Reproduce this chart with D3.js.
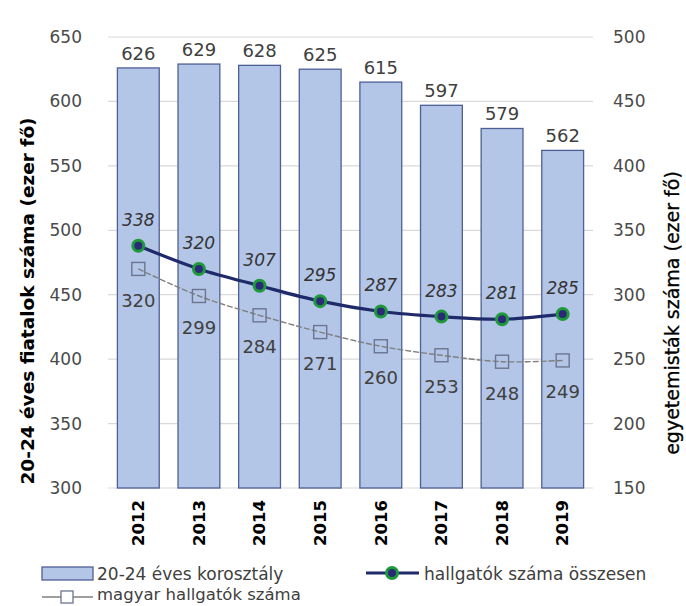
<!DOCTYPE html>
<html>
<head>
<meta charset="utf-8">
<script src="https://cdn.jsdelivr.net/npm/d3@7/dist/d3.min.js"></script>
<style>
  html, body { margin: 0; padding: 0; background: #fff; }
  svg { display: block; }
</style>
</head>
<body>
<svg id="chart" width="686" height="606"></svg>
<script>
const years = ["2012", "2013", "2014", "2015", "2016", "2017", "2018", "2019"];
const cohort = [626, 629, 628, 625, 615, 597, 579, 562];
const studentsTotal = [338, 320, 307, 295, 287, 283, 281, 285];
const studentsHungarian = [320, 299, 284, 271, 260, 253, 248, 249];
const leftTicks = [300, 350, 400, 450, 500, 550, 600, 650];
const rightTicks = [150, 200, 250, 300, 350, 400, 450, 500];
const seriesNames = ["20-24 éves korosztály", "hallgatók száma összesen", "magyar hallgatók száma"];
const leftTitle = "20-24 éves fiatalok száma (ezer fő)";
const rightTitle = "egyetemisták száma (ezer fő)";

const svg = d3.select("#chart");
const font = "'DejaVu Sans', sans-serif";
const plot = { left: 108, right: 593, top: 37, bottom: 488 };

const x = d3.scaleBand().domain(years).range([plot.left, plot.right]).paddingInner(0.31).paddingOuter(0.155);
const yL = d3.scaleLinear().domain([300, 650]).range([plot.bottom, plot.top]);
const yR = d3.scaleLinear().domain([150, 500]).range([plot.bottom, plot.top]);
const cx = d => x(d) + x.bandwidth() / 2;

// gridlines
svg.append("g").selectAll("line").data(leftTicks).join("line")
  .attr("x1", plot.left).attr("x2", plot.right)
  .attr("y1", d => yL(d)).attr("y2", d => yL(d))
  .attr("stroke", "#d9d9d9").attr("stroke-width", 1.2);

// left axis
const axL = svg.append("g").attr("transform", `translate(${plot.left},0)`)
  .call(d3.axisLeft(yL).tickValues(leftTicks).tickSize(0).tickPadding(26));
axL.select(".domain").remove();
axL.selectAll("text").attr("font-family", font).attr("font-size", 17).attr("fill", "#4a4a4a");

// right axis
const axR = svg.append("g").attr("transform", `translate(${plot.right},0)`)
  .call(d3.axisRight(yR).tickValues(rightTicks).tickSize(0).tickPadding(20));
axR.select(".domain").remove();
axR.selectAll("text").attr("font-family", font).attr("font-size", 17).attr("fill", "#4a4a4a");

// x axis
const axX = svg.append("g").attr("transform", `translate(0,${plot.bottom})`)
  .call(d3.axisBottom(x).tickSize(0).tickPadding(0));
axX.select(".domain").remove();
axX.selectAll("text")
  .attr("font-family", font).attr("font-size", 16.5).attr("font-weight", "bold").attr("fill", "#000")
  .attr("transform", "rotate(-90)")
  .attr("text-anchor", "end").attr("dy", "0.35em").attr("x", -12).attr("y", 0);

// axis titles
svg.append("text").attr("transform", "translate(34,301) rotate(-90)")
  .attr("text-anchor", "middle").attr("font-family", font).attr("font-size", 18.5).attr("font-weight", "bold")
  .attr("fill", "#000").text(leftTitle);
svg.append("text").attr("transform", "translate(679,313) rotate(-90)")
  .attr("text-anchor", "middle").attr("font-family", font).attr("font-size", 19)
  .attr("fill", "#000").attr("stroke", "#000").attr("stroke-width", 0.3).text(rightTitle);

// bars
svg.append("g").selectAll("rect").data(years).join("rect")
  .attr("x", d => x(d)).attr("width", x.bandwidth())
  .attr("y", (d, i) => yL(cohort[i])).attr("height", (d, i) => yL(300) - yL(cohort[i]))
  .attr("fill", "#b4c6e7").attr("stroke", "#4e5f95").attr("stroke-width", 1.3);

svg.append("g").selectAll("text").data(years).join("text")
  .attr("x", d => cx(d)).attr("y", (d, i) => yL(cohort[i]) - 8)
  .attr("text-anchor", "middle").attr("font-family", font).attr("font-size", 18).attr("fill", "#404040")
  .text((d, i) => cohort[i]);

// hungarian students line
const lineGen = d3.line().curve(d3.curveCatmullRom.alpha(0.5));
const ptsH = years.map((d, i) => [cx(d), yR(studentsHungarian[i])]);
svg.append("path").attr("d", lineGen(ptsH)).attr("fill", "none")
  .attr("stroke", "#7f7f7f").attr("stroke-width", 1.4).attr("stroke-dasharray", "6,2");
svg.append("g").selectAll("rect").data(ptsH).join("rect")
  .attr("x", d => d[0] - 6.5).attr("y", d => d[1] - 6.5).attr("width", 13).attr("height", 13)
  .attr("fill", "none").attr("stroke", "#6b7590").attr("stroke-width", 1.4);
svg.append("g").selectAll("text").data(ptsH).join("text")
  .attr("x", d => d[0]).attr("y", d => d[1] + 38)
  .attr("text-anchor", "middle").attr("font-family", font).attr("font-size", 18).attr("fill", "#404040")
  .text((d, i) => studentsHungarian[i]);

// total students line
const ptsT = years.map((d, i) => [cx(d), yR(studentsTotal[i])]);
svg.append("path").attr("d", lineGen(ptsT)).attr("fill", "none")
  .attr("stroke", "#1f2a6b").attr("stroke-width", 3.2);
svg.append("g").selectAll("circle").data(ptsT).join("circle")
  .attr("cx", d => d[0]).attr("cy", d => d[1]).attr("r", 5.5)
  .attr("fill", "#2a2a78").attr("stroke", "#1f9a3a").attr("stroke-width", 3);
svg.append("g").selectAll("text").data(ptsT).join("text")
  .attr("x", d => d[0]).attr("y", d => d[1] - 20)
  .attr("text-anchor", "middle").attr("font-family", font).attr("font-size", 17)
  .attr("font-style", "italic").attr("fill", "#333")
  .text((d, i) => studentsTotal[i]);

// legend
const lg = svg.append("g").attr("font-family", font).attr("font-size", 17).attr("fill", "#404040");
lg.append("rect").attr("x", 42).attr("y", 567).attr("width", 51).attr("height", 13)
  .attr("fill", "#b4c6e7").attr("stroke", "#4e5f95").attr("stroke-width", 1.3);
lg.append("text").attr("x", 97).attr("y", 580).text(seriesNames[0]);

lg.append("line").attr("x1", 366).attr("x2", 419).attr("y1", 573).attr("y2", 573)
  .attr("stroke", "#1f2a6b").attr("stroke-width", 3.2);
lg.append("circle").attr("cx", 392).attr("cy", 573).attr("r", 5.5)
  .attr("fill", "#2a2a78").attr("stroke", "#1f9a3a").attr("stroke-width", 3);
lg.append("text").attr("x", 424).attr("y", 580).text(seriesNames[1]);

lg.append("line").attr("x1", 42).attr("x2", 93).attr("y1", 597).attr("y2", 597)
  .attr("stroke", "#7f7f7f").attr("stroke-width", 1.4);
lg.append("rect").attr("x", 61).attr("y", 591).attr("width", 12).attr("height", 12)
  .attr("fill", "#fff").attr("stroke", "#6b7590").attr("stroke-width", 1.3);
lg.append("text").attr("x", 97).attr("y", 600).attr("font-size", 16.5).text(seriesNames[2]);
</script>
</body>
</html>
